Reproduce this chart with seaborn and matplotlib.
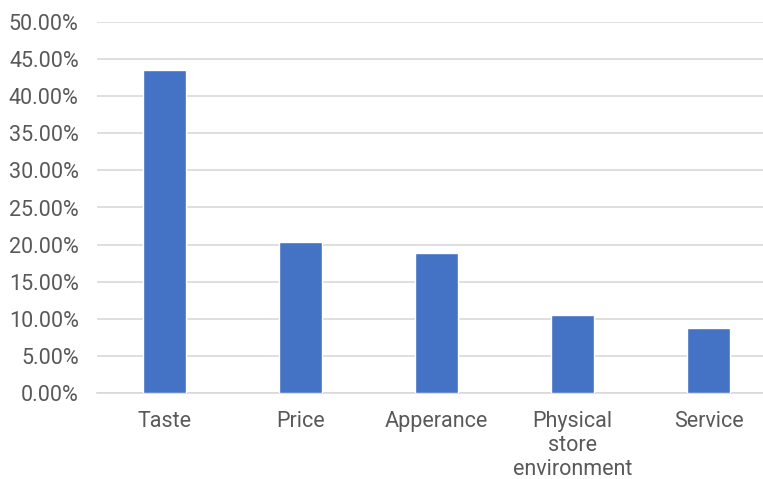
import matplotlib
matplotlib.use("Agg")
import matplotlib.pyplot as plt
import seaborn as sns
import pandas as pd
from matplotlib.ticker import PercentFormatter, MultipleLocator

categories = ["Taste", "Price", "Apperance", "Physical\nstore\nenvironment", "Service"]
values = [0.435, 0.203, 0.1887, 0.1047, 0.0876]

sns.set_theme(style="white")
plt.rcParams['font.family'] = ['Roboto', 'DejaVu Sans']

df = pd.DataFrame({"category": categories, "value": values})

fig = plt.figure(figsize=(7.63, 4.79), dpi=100)
W, H = 763, 479
left, right_px = 96.7, 776.7
ax = fig.add_axes([left / W, 86 / H, (right_px - left) / W, (393 - 22) / H])

sns.barplot(data=df, x="category", y="value", color="#4472C4", width=0.316,
            saturation=1, ax=ax, zorder=3)

ax.set_ylim(0, 0.5)
ax.set_xlim(-0.5, 4.5)
ax.yaxis.set_major_locator(MultipleLocator(0.05))
ax.yaxis.set_major_formatter(PercentFormatter(1.0, decimals=2))
ax.grid(axis="y", color="#D9D9D9", linewidth=1.2, zorder=0)
ax.set_axisbelow(True)
for s in ["top", "right", "left"]:
    ax.spines[s].set_visible(False)
ax.spines["bottom"].set_color("#D9D9D9")
ax.spines["bottom"].set_linewidth(1.2)
ax.set_xlabel("")
ax.set_ylabel("")
ax.tick_params(axis="y", length=0, pad=13, labelsize=15.5, labelcolor="#595959")
ax.tick_params(axis="x", length=0, pad=13, labelsize=15.5, labelcolor="#595959")
for t in ax.get_xticklabels():
    t.set_linespacing(1.2)
    t.set_verticalalignment("top")

fig.savefig("out.png", dpi=100)
